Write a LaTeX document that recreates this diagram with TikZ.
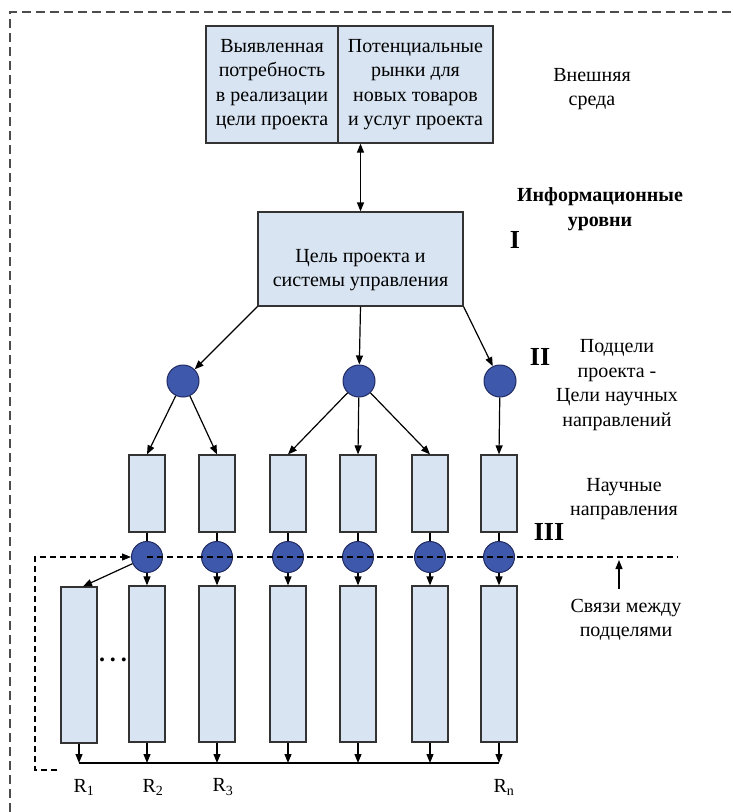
\documentclass[tikz,border=0pt]{standalone}
\usepackage{fontspec}
\setmainfont{Liberation Serif}
\usepackage{tikz}
\usetikzlibrary{arrows.meta}
\definecolor{boxfill}{RGB}{216,228,242}
\definecolor{dotfill}{RGB}{62,88,172}
\definecolor{dotline}{RGB}{32,42,96}
\tikzset{bx/.style={draw=black!80, line width=1.2pt, fill=boxfill, inner sep=0pt, align=center},
        pt/.style={circle, draw=dotline, line width=1pt, fill=dotfill, minimum size=32pt, inner sep=0pt},
        tx/.style={align=center, inner sep=0pt, font=\fontsize{20}{24.5}\selectfont},
        tb/.style={align=center, inner sep=0pt, font=\fontsize{20}{24.5}\selectfont\bfseries},
        rn/.style={inner sep=0pt, font=\fontsize{26}{28}\selectfont\bfseries},
        ar/.style={->, line width=1.2pt},
        ln/.style={dashed, dash pattern=on 6pt off 4pt, line width=1.3pt}}

\begin{document}
\begin{tikzpicture}[x=1pt, y=-1pt, >={Triangle[length=9pt,width=7pt]}]
    \useasboundingbox (0,0) rectangle (732,812);
    % outer frame
    \draw[dashed, dash pattern=on 9pt off 5pt, line width=1.5pt, black!70] (10,812) -- (10,12) -- (732,12);

    % external environment
    \node[bx, tx, minimum width=132pt, minimum height=117pt] (need) at (272,84.5) {Выявленная\\потребность\\в реализации\\цели проекта};
    \node[bx, tx, minimum width=155pt, minimum height=117pt] (mkt) at (415.5,84.5) {Потенциальные\\рынки для\\новых товаров\\и услуг проекта};

    % level I
    \node[bx, minimum width=205pt, minimum height=94pt] (goal) at (360.5,259) {};
    \node[tx] (goaltx) at ([yshift=-11pt]goal.center) {Цель проекта и\\системы управления};

    % level II
    \foreach \n/\x in {1/183, 2/359, 3/500}
      \node[pt] (s\n) at (\x,381) {};

    % level III: directions, subgoals, results
    \foreach \n/\x in {1/147, 2/217, 3/288, 4/358, 5/430, 6/499} {
      \node[bx, minimum width=36pt, minimum height=77pt] (u\n) at (\x,493.5) {};
      \node[pt, minimum size=31pt] (c\n) at (\x,557) {};
      \node[bx, minimum width=36pt, minimum height=156pt] (l\n) at (\x,664) {};
    }
    \node[bx, minimum width=36pt, minimum height=156pt] (l0) at (79,665) {};
    \node[inner sep=0pt, font=\fontsize{24}{24}\selectfont\bfseries] (dots) at (113,660) {.\hspace{5pt}.\hspace{5pt}.};

    % connectors
    \draw[<->, line width=1.2pt] (goal.north) -- (goal.north |- mkt.south);
    \draw[ar] (goal.south west) -- (s1);
    \draw[ar] (goal.south) -- (s2);
    \draw[ar] (goal.south east) -- (s3);
    \foreach \a/\b in {1/1, 1/2, 2/3, 2/4, 2/5, 3/6}
      \draw[ar] (s\a) -- (u\b.north);
    \foreach \n in {1,...,6} {
      \draw[line width=1.2pt] (u\n) -- (c\n);
      \draw[ar] (c\n) -- (l\n);
    }
    \draw[ar] (c1) -- ([xshift=4pt]l0.north);

    % results bus
    \coordinate (bus) at (0,763);
    \foreach \n in {0,...,6}
      \draw[ar] (l\n.south) -- (l\n.south |- bus);
    \draw[line width=1.2pt] (l0.south |- bus) -- (l6.south |- bus);

    % links between subgoals
    \coordinate (fb0) at (57,770);
    \coordinate (fb1) at (35,770);
    \coordinate (fb2) at (35,557);
    \coordinate (lnk) at (678,557);
    \coordinate (mark) at (619,560);
    \draw[ln, ->] (fb0) -- (fb1) -- (fb2) -- (c1);
    \draw[ln] (c1.center) -- (lnk);

    % result labels
    \foreach \n/\x/\s in {0/84/1, 1/153/2, 2/223/3, 6/504/n}
      \node[tx] (r\n) at (\x,787) {R\textsubscript{\s}};

    % side labels
    \node[tx] (env) at (592,89) {Внешняя\\среда};
    \node[tb] (lev) at (600,209) {Информационные\\уровни};
    \node[rn] (lv1) at (515,240) {I};
    \node[rn] (lv2) at (540,357) {II};
    \node[rn] (lv3) at (549,532) {III};
    \node[tx] (sub) at (617,385) {Подцели\\проекта -\\Цели научных\\направлений};
    \node[tx] (sci) at (624,499) {Научные\\направления};
    \node[tx] (rel) at (626,620) {Связи между\\подцелями};
    \draw[ar] ([yshift=10pt]rel.north -| mark) -- (mark);
\end{tikzpicture}
\end{document}
